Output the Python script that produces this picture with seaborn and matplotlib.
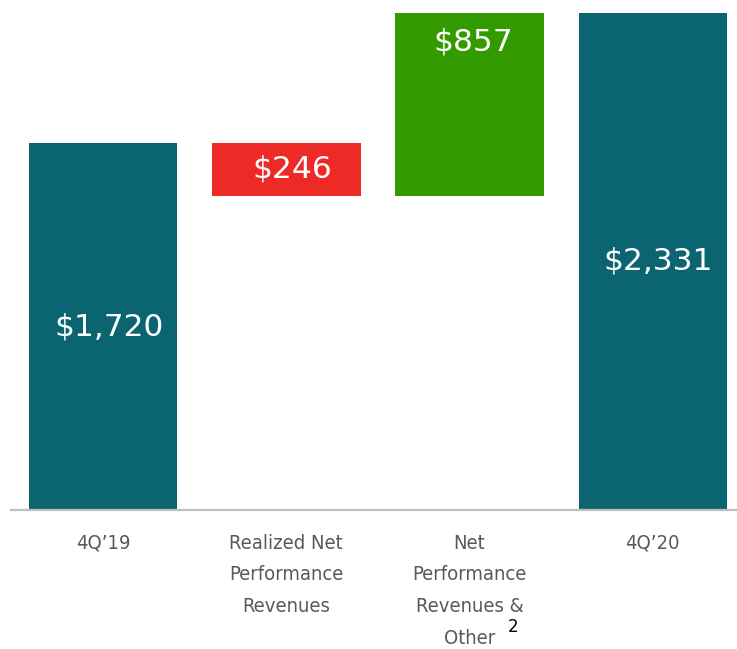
import os
import numpy as np
import matplotlib
matplotlib.use("Agg")
import matplotlib.pyplot as plt
from matplotlib import font_manager as fm
import seaborn as sns

# waterfall data ($ millions)
categories = ["4Q\u201919", "Realized Net\nPerformance\nRevenues",
              "Net\nPerformance\nRevenues &\nOther", "4Q\u201920"]
changes = [1720, -246, 857, 2331]
kinds = ["total", "delta", "delta", "total"]
labels = ["$1,720", "$246", "$857", "$2,331"]

colors = {"total": "#0b6570", "neg": "#ee2a27", "pos": "#339a00"}

sns.set_style("white")
plt.rcParams["font.family"] = ["DejaVu Sans"]

# narrow DejaVu for the category labels, if the file is around
cond = [f for f in fm.findSystemFonts()
        if os.path.basename(f) == "DejaVuSansCondensed.ttf"]
if cond:
    tick_font = fm.FontProperties(fname=cond[0], size=14.5)
else:
    tick_font = fm.FontProperties(family="DejaVu Sans", size=13)

fig = plt.figure(figsize=(7.37, 6.49), dpi=100)
ax = fig.add_axes([0.0156, 0.2142, 0.9844, 0.7858])

# compute bottoms / heights for a waterfall
bottoms, heights, bar_colors = [], [], []
running = 0
for val, kind in zip(changes, kinds):
    if kind == "total":
        bottoms.append(0)
        heights.append(val)
        bar_colors.append(colors["total"])
        running = val
    else:
        if val < 0:
            bottoms.append(running + val)
            heights.append(-val)
            bar_colors.append(colors["neg"])
        else:
            bottoms.append(running)
            heights.append(val)
            bar_colors.append(colors["pos"])
        running += val

# the increase bar starts where the decline bar ends
bottoms[2] = bottoms[1]

x = np.arange(len(categories))
ax.bar(x, heights, bottom=bottoms, width=0.81, color=bar_colors, linewidth=0)

for i, (b, h, lab) in enumerate(zip(bottoms, heights, labels)):
    if i == 2:
        ax.annotate(lab, (i, b + h), xytext=(3, -21), textcoords="offset points",
                    ha="center", va="center", color="white", fontsize=22.5)
    else:
        ax.annotate(lab, (i, b + h / 2), xytext=(4, 0), textcoords="offset points",
                    ha="center", va="center", color="white", fontsize=22.5)

ax.set_xlim(-0.5, 3.46)
ax.set_ylim(0, 2392)
ax.set_xticks(x)
ax.set_xticklabels(categories, fontproperties=tick_font, color="#595959",
                   linespacing=1.85)
ax.tick_params(axis="x", length=0, pad=17)
ax.set_yticks([])

for side in ["top", "right", "left"]:
    ax.spines[side].set_visible(False)
ax.spines["bottom"].set_color("#bfbfbf")
ax.spines["bottom"].set_linewidth(1.6)

# footnote marker on the last line of the third label
ax.annotate("2", (2, 0), xycoords=("data", "axes fraction"),
            xytext=(31, -84), textcoords="offset points",
            ha="center", va="center", fontsize=12, color="black")

fig.savefig("out.png", dpi=100)
